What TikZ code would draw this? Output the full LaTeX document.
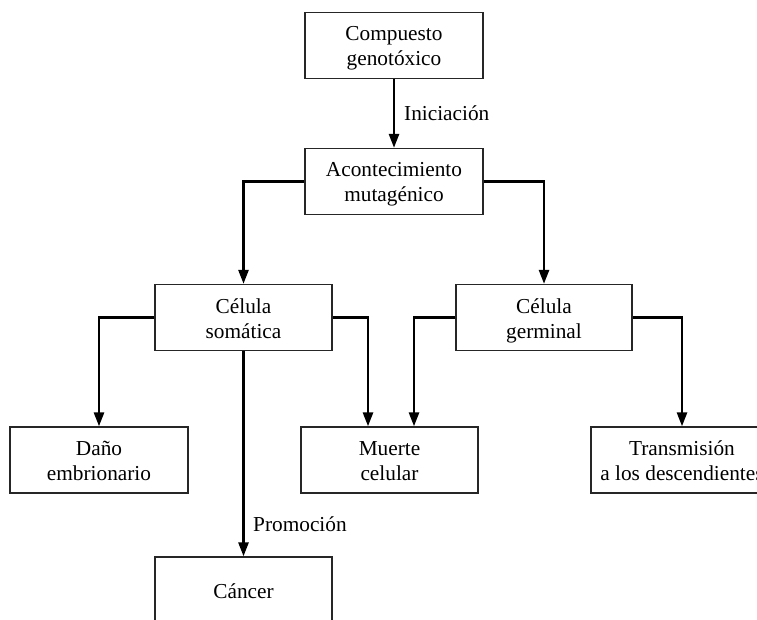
\documentclass[tikz,border=0pt]{standalone}
\usepackage{fontspec}
\setmainfont{Liberation Serif}
\usetikzlibrary{arrows.meta,calc}
\newcommand{\topst}{\rule{0pt}{22pt}}
\newcommand{\botst}{\rule[-6pt]{0pt}{6pt}}
\begin{document}
\begin{tikzpicture}[x=1pt,y=-1pt,
  box/.style={draw=black!85,line width=1.3pt,minimum width=#1,minimum height=66pt,inner sep=0pt,align=center,
    font=\fontsize{21.3}{25}\selectfont},
  box/.default=178pt,
  conn/.style={line width=2.6pt,-{Triangle[length=14pt,width=10pt]}},
  lab/.style={font=\fontsize{21.3}{25}\selectfont,anchor=base west,inner sep=0pt}]
\useasboundingbox (0,0) rectangle (757,620);
\clip (0,0) rectangle (757,620);
\node[box] (comp) at (394,45.5) {\topst Compuesto\\genotóxico\botst};
\node[box] (acon) at (394,181.5) {\topst Acontecimiento\\mutagénico\botst};
\node[box=177pt] (som) at (243.5,317.5) {\topst Célula\\somática\botst};
\node[box=176pt] (germ) at (544,317.5) {\topst Célula\\germinal\botst};
\node[box] (dano) at (99,460) {\topst Daño\\embrionario\botst};
\node[box=177pt] (muer) at (389.5,460) {\topst Muerte\\celular\botst};
\node[box=182pt] (trans) at (682,460) {\topst Transmisión\\a los descendientes\botst};
\node[box=177pt,minimum height=67pt] (canc) at (243.5,590.5) {\topst Cáncer\botst};
\coordinate (mL) at ($(muer.north)+(-21.5,0)$);
\coordinate (mR) at ($(muer.north)+(24.5,0)$);
\draw[conn] (comp) -- (acon);
\node[lab] (ini) at (404,121) {Iniciación};
\draw[conn] (acon.west) -| (som.north);
\draw[conn] (acon.east) -| (germ.north);
\draw[conn] (som.west) -| (dano.north);
\draw[conn] (som.east) -| (mL);
\draw[conn] (germ.west) -| (mR);
\draw[conn] (germ.east) -| (trans.north);
\draw[conn] (som) -- (canc);
\node[lab] (prom) at (253,531) {Promoción};
\end{tikzpicture}
\end{document}
